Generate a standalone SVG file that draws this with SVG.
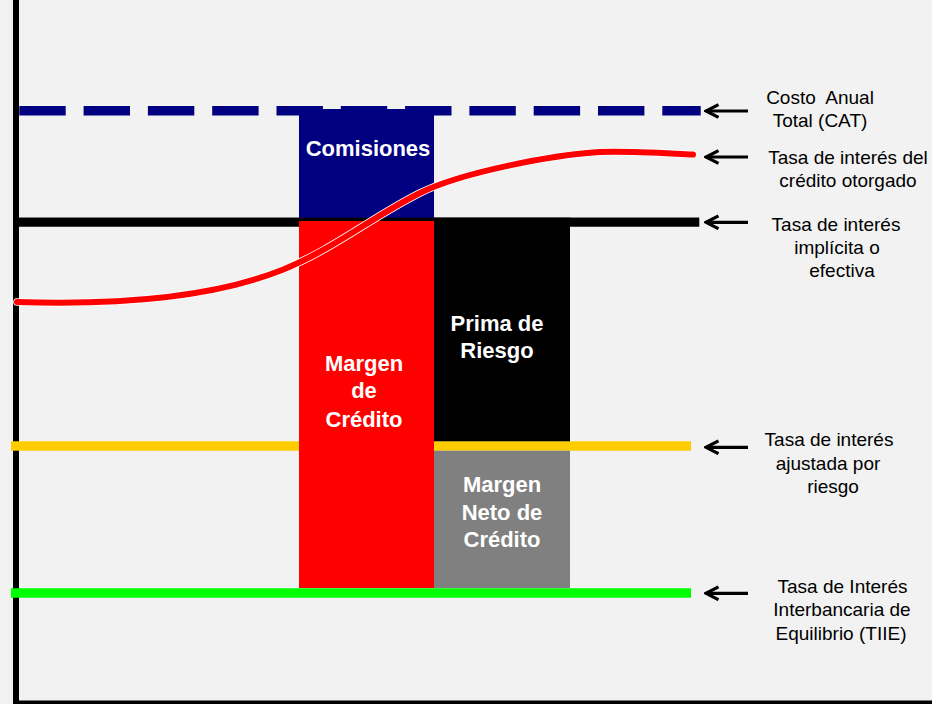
<svg xmlns="http://www.w3.org/2000/svg" width="932" height="704" viewBox="0 0 932 704">
<style>
.box{font-family:"Liberation Sans",Arial,sans-serif;font-weight:bold;font-size:22px;fill:#ffffff;text-anchor:middle}
.lbl{font-family:"Liberation Sans",Arial,sans-serif;font-size:19px;fill:#000000;text-anchor:middle;white-space:pre}
.arr{stroke:#000000;stroke-width:3.2;fill:none;marker-end:url(#head)}
</style>
<defs>
<marker id="head" markerUnits="userSpaceOnUse" viewBox="0 0 16 16" markerWidth="16" markerHeight="16" refX="14" refY="8" orient="auto">
<path d="M1.5,1.6 L14,8 L1.5,14.4" fill="none" stroke="#000000" stroke-width="3.2" stroke-linejoin="miter"/>
</marker>
<path id="curvepath" d="M17,302 C110,305 210,298.8 282,270 C332,250 373,216.5 420,193 C460,173 550,155 600,152 C630,151 660,153 693,154.5" fill="none"/>
</defs>
<rect x="0" y="0" width="932" height="704" fill="#f2f2f2"/>
<g id="axes">
<rect x="13" y="0" width="6" height="704" fill="#000000"/>
<rect x="13" y="700.5" width="919" height="4" fill="#000000"/>
</g>
<g id="connectors">
<line id="cat-line" x1="19.3" y1="110.8" x2="700.7" y2="110.8" stroke="#000080" stroke-width="9.5" stroke-dasharray="46.4 17.9"/>
<line id="implicit-line" x1="19" y1="222.2" x2="699.3" y2="222.2" stroke="#000000" stroke-width="9"/>
<line id="risk-line" x1="11" y1="446" x2="691" y2="446" stroke="#ffcc00" stroke-width="9.4"/>
<line id="tiie-line" x1="11" y1="593" x2="691" y2="593" stroke="#00ff00" stroke-width="9.5"/>
</g>
<g id="node-comisiones">
<rect x="299" y="109" width="135" height="109" fill="#000080"/>
<text class="box" x="368" y="156">Comisiones</text>
</g>
<rect x="19" y="217.7" width="680" height="3.5" fill="#000000"/>
<g id="node-margen-credito">
<rect x="299" y="221" width="135" height="367" fill="#ff0000"/>
<text class="box" x="364" y="371">Margen</text>
<text class="box" x="364" y="398">de</text>
<text class="box" x="364" y="427">Crédito</text>
</g>
<g id="node-prima-riesgo">
<rect x="434" y="217.7" width="136" height="223.6" fill="#000000"/>
<text class="box" x="497" y="331">Prima de</text>
<text class="box" x="497" y="358">Riesgo</text>
</g>
<g id="node-margen-neto">
<rect x="434" y="450.7" width="136" height="137.3" fill="#808080"/>
<text class="box" x="502" y="492">Margen</text>
<text class="box" x="502" y="520">Neto de</text>
<text class="box" x="502" y="547">Crédito</text>
</g>
<g id="curve">
<use href="#curvepath" stroke="#ffffff" stroke-width="7.6" stroke-linecap="round"/>
<use href="#curvepath" stroke="#ff0000" stroke-width="6" stroke-linecap="round"/>
</g>
<g id="arrows">
<line class="arr" x1="748" y1="111" x2="706" y2="111"/>
<line class="arr" x1="748" y1="157" x2="706" y2="157"/>
<line class="arr" x1="748" y1="222.3" x2="706" y2="222.3"/>
<line class="arr" x1="748" y1="447.3" x2="706" y2="447.3"/>
<line class="arr" x1="748" y1="593.3" x2="706" y2="593.3"/>
</g>
<g id="label-cat">
<text class="lbl" x="820" y="104">Costo  Anual</text>
<text class="lbl" x="820" y="127">Total (CAT)</text>
</g>
<g id="label-credito">
<text class="lbl" x="848" y="164">Tasa de interés del</text>
<text class="lbl" x="848" y="187">crédito otorgado</text>
</g>
<g id="label-implicita">
<text class="lbl" x="836" y="231">Tasa de interés</text>
<text class="lbl" x="837" y="254">implícita o</text>
<text class="lbl" x="842" y="277">efectiva</text>
</g>
<g id="label-riesgo">
<text class="lbl" x="829" y="446">Tasa de interés</text>
<text class="lbl" x="828" y="470">ajustada por</text>
<text class="lbl" x="833" y="492.5">riesgo</text>
</g>
<g id="label-tiie">
<text class="lbl" x="842.5" y="593">Tasa de Interés</text>
<text class="lbl" x="842" y="616">Interbancaria de</text>
<text class="lbl" x="841" y="640">Equilibrio (TIIE)</text>
</g>
</svg>
